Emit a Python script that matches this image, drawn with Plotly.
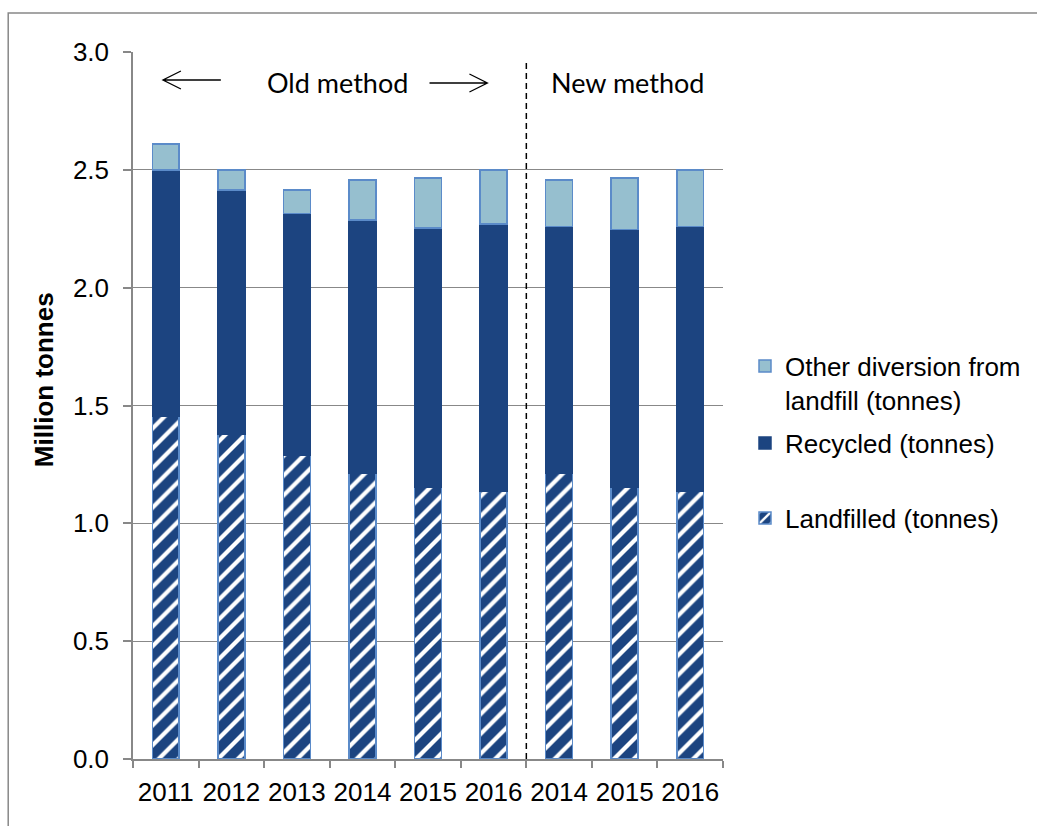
import plotly.graph_objects as go

# ---- data ----
categories = ["2011", "2012", "2013", "2014", "2015", "2016", "2014", "2015", "2016"]
n_old = 6  # first six bars use the old method
landfilled = [1.456, 1.380, 1.287, 1.213, 1.152, 1.135, 1.213, 1.152, 1.135]
recycled_top = [2.500, 2.415, 2.314, 2.288, 2.254, 2.271, 2.260, 2.246, 2.260]
total_top = [2.610, 2.500, 2.415, 2.457, 2.466, 2.500, 2.457, 2.466, 2.500]
recycled = [round(r - l, 3) for r, l in zip(recycled_top, landfilled)]
other = [round(t - r, 3) for t, r in zip(total_top, recycled_top)]

series_names = ["Landfilled (tonnes)", "Recycled (tonnes)", "Other diversion from<br>landfill (tonnes)"]
y_ticks = [0.0, 0.5, 1.0, 1.5, 2.0, 2.5, 3.0]

# ---- style ----
W, H = 1037, 826
L, R, T, B = 133, 724, 52, 759
NAVY = "#1c4480"
LIGHT = "#96bfcf"
EDGE = "#5b8bc9"
GRID = "#888888"
FONT = "Liberation Sans, Arial, sans-serif"
CAL = "Lato, Carlito, Calibri, sans-serif"


def px(xp):
    return (xp - L) / (R - L)


def py(yp):
    return (B - yp) / (B - T)


x = list(range(len(categories)))
bw = 0.41

fig = go.Figure()
fig.add_bar(x=x, y=landfilled, width=bw, name=series_names[0], legend="legend3",
            marker=dict(color=NAVY, line=dict(color=EDGE, width=1.5),
                        pattern=dict(shape="/", fgcolor="white", bgcolor=NAVY,
                                     size=14, solidity=0.3, fillmode="replace")))
fig.add_bar(x=x, y=recycled, width=bw, name=series_names[1], legend="legend2",
            marker=dict(color=NAVY, line=dict(color=NAVY, width=1.5)))
fig.add_bar(x=x, y=other, width=bw, name=series_names[2], legend="legend",
            marker=dict(color=LIGHT, line=dict(color=EDGE, width=1.5)))

split = n_old - 0.5
shapes = [
    # method separator
    dict(type="line", xref="x", yref="y", x0=split, x1=split, y0=0, y1=2.97,
         line=dict(color="black", width=1.5, dash="6px,4px")),
    # outer chart border (left and top visible)
    dict(type="path", xref="paper", yref="paper",
         path=f"M {px(8)} {py(830)} L {px(8)} {py(13)} L {px(1040)} {py(13)}",
         line=dict(color=GRID, width=1.5)),
    # left arrow
    dict(type="path", xref="paper", yref="paper",
         path=f"M {px(221)} {py(80)} L {px(163)} {py(80)} M {px(181)} {py(71)} L {px(163)} {py(80)} L {px(181)} {py(89)}",
         line=dict(color="black", width=1.3)),
    # right arrow
    dict(type="path", xref="paper", yref="paper",
         path=f"M {px(430)} {py(83)} L {px(488)} {py(83)} M {px(470)} {py(74)} L {px(488)} {py(83)} L {px(470)} {py(92)}",
         line=dict(color="black", width=1.3)),
]

annotations = [
    dict(text="Old method", xref="paper", yref="paper", x=px(338), y=py(82),
         xanchor="center", yanchor="middle",
         showarrow=False, font=dict(family=CAL, size=27, color="black")),
    dict(text="New method", xref="paper", yref="paper", x=px(628), y=py(82),
         xanchor="center", yanchor="middle",
         showarrow=False, font=dict(family=CAL, size=27, color="black")),
    dict(text="<b>Million tonnes</b>", xref="paper", yref="paper", x=px(44), y=py(380),
         xanchor="center", yanchor="middle",
         textangle=-90, showarrow=False, font=dict(family=FONT, size=26, color="black")),
]

leg_common = dict(font=dict(family=FONT, size=26, color="black"), xanchor="left",
                  yanchor="middle", bgcolor="rgba(0,0,0,0)", valign="top", visible=True)

fig.update_layout(
    width=W, height=H,
    margin=dict(l=L, r=W - R, t=T, b=H - B),
    paper_bgcolor="white", plot_bgcolor="white",
    barmode="stack",
    showlegend=True,
    font=dict(family=FONT, size=26, color="black"),
    legend=dict(x=px(745), y=py(383), **leg_common),
    legend2=dict(x=px(745), y=py(443), **leg_common),
    legend3=dict(x=px(745), y=py(518), **leg_common),
    shapes=shapes,
    annotations=annotations,
    xaxis=dict(range=[-0.5, len(categories) - 0.5], tickmode="array", tickvals=x,
               ticktext=categories, showline=True, linecolor=GRID, linewidth=1.5,
               showgrid=False, zeroline=False, ticks="", ticklabelstandoff=9,
               tickfont=dict(family=FONT, size=26, color="black"),
               minor=dict(tickmode="array", tickvals=[i - 0.5 for i in range(len(categories) + 1)],
                          ticks="outside", ticklen=7, tickcolor=GRID, tickwidth=1.5)),
    yaxis=dict(range=[0, 3], tickmode="array", tickvals=y_ticks,
               ticktext=[f"{v:.1f}" for v in y_ticks],
               showline=True, linecolor=GRID, linewidth=1.5,
               showgrid=True, gridcolor=GRID, gridwidth=1.3, zeroline=False,
               ticks="outside", ticklen=8, tickcolor=GRID, tickwidth=1.5,
               ticklabelstandoff=9,
               tickfont=dict(family=FONT, size=26, color="black")),
)

fig.write_html("out.html")
